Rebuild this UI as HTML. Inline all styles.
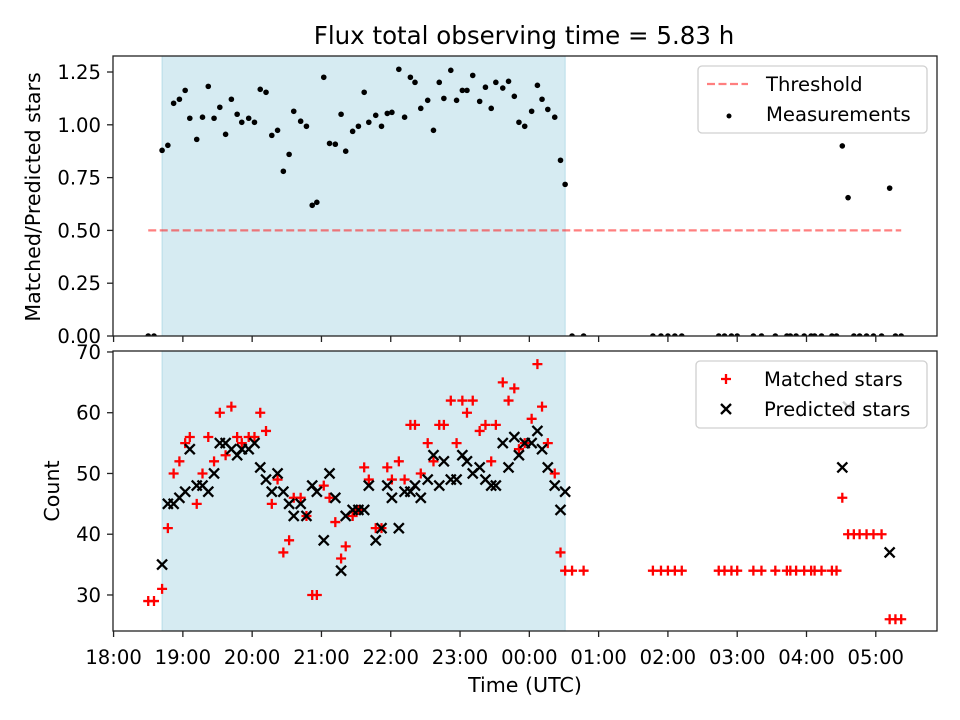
<!DOCTYPE html>
<html><head><meta charset="utf-8"><style>
html,body{margin:0;padding:0;background:#fff;overflow:hidden;width:960px;height:720px;}
svg{display:block;font-family:"DejaVu Sans","Liberation Sans",sans-serif;}
</style></head><body>
<svg id="chart" width="960" height="720" viewBox="0 0 960 720">
<text x="524" y="44" font-size="24.5" text-anchor="middle">Flux total observing time = 5.83 h</text>
<g id="gtop"></g>
<g id="gbot"></g>
<text transform="translate(40,197) rotate(-90)" font-size="20.6" text-anchor="middle">Matched/Predicted stars</text>
<text transform="translate(59,491) rotate(-90)" font-size="20.6" text-anchor="middle">Count</text>
<text x="525" y="692" font-size="20.6" text-anchor="middle">Time (UTC)</text>
</svg>
<script>
// times: minutes since 18:00 UTC
const times=[30,35,42,47,52,57,62,66,72,77,82,87,92,97,102,107,111,117,122,127,132,137,142,147,152,156,162,167,172,176,182,187,192,197,201,207,212,217,221,227,232,237,241,247,252,257,261,266,272,277,282,286,292,297,302,306,311,317,322,327,331,337,342,347,351,356,362,367,371,376,382,387,391,397,407,467,474,480,486,492,524,529,535,540,554,561,573,583,586,591,598,604,607,613,622,626,631,636,641,646,652,658,665,672,677,682];
const ratios=[0,0,0.879,0.903,1.102,1.121,1.163,1.031,0.931,1.036,1.182,1.031,1.083,0.955,1.121,1.050,1.012,1.031,1.012,1.168,1.154,0.950,0.974,0.780,0.860,1.064,1.017,0.993,0.619,0.633,1.225,0.912,0.908,1.050,0.875,0.969,0.993,1.154,1.012,1.045,0.993,1.054,1.059,1.263,1.036,1.225,1.201,1.078,1.116,0.974,1.201,1.125,1.258,1.116,1.163,1.163,1.234,1.111,1.178,1.078,1.201,1.174,1.206,1.135,1.012,0.993,1.064,1.187,1.121,1.073,1.036,0.832,0.718,0,0,0,0,0,0,0,0,0,0,0,0,0,0,0,0,0,0,0,0,0,0,0,0.90,0.655,0,0,0,0,0,0.70,0,0];
const matched=[29,29,31,41,50,52,55,56,45,50,56,52,60,53,61,56,55,56,56,60,57,45,49,37,39,46,46,43,30,30,48,46,42,36,38,43,44,51,49,41,41,51,49,52,49,58,58,50,55,52,58,58,62,55,62,60,62,57,58,52,58,65,62,64,54,55,59,68,61,55,50,37,34,34,34,34,34,34,34,34,34,34,34,34,34,34,34,34,34,34,34,34,34,34,34,34,46,40,40,40,40,40,40,26,26,26];
const predicted=[0,0,35,45,45,46,47,54,48,48,47,50,55,55,54,53,54,54,55,51,49,47,50,47,45,43,45,43,48,47,39,50,46,34,43,44,44,44,48,39,41,48,46,41,47,47,48,46,49,53,48,52,49,49,53,52,50,51,49,48,48,55,51,56,53,55,55,57,54,51,48,44,47,0,0,0,0,0,0,0,0,0,0,0,0,0,0,0,0,0,0,0,0,0,0,0,51,61,0,0,0,0,0,37,0,0];
const yTicksTop=[0,0.25,0.5,0.75,1.0,1.25];
const yTickLabelsTop=["0.00","0.25","0.50","0.75","1.00","1.25"];
const yTicksBot=[30,40,50,60,70];
const xTicks=[0,60,120,180,240,300,360,420,480,540,600,660];
const xTickLabels=["18:00","19:00","20:00","21:00","22:00","23:00","00:00","01:00","02:00","03:00","04:00","05:00"];
const spanStart=42, spanEnd=391, threshold=0.5;

const NS="http://www.w3.org/2000/svg";
const L=113,R=937;
const x=t=>L+(t-(-0.5))/(713.5)*(R-L);
const TT=56,TB=336,BT=351,BB=631;
const yT=v=>TB-v/1.3258*(TB-TT);
const yB=v=>BB-(v-24.07)/(70.16-24.07)*(BB-BT);
const FS=19.6, LFS=20.6;
function mk(p,tag,a){const e=document.createElementNS(NS,tag);for(const k in a)e.setAttribute(k,a[k]);p.appendChild(e);return e;}
const gTop=document.getElementById('gtop'),gBot=document.getElementById('gbot');
const svgRoot=document.getElementById('chart');
function panel(g,T,B,name){
  const clip=mk(svgRoot,'clipPath',{id:'c'+name});
  mk(clip,'rect',{x:L,y:T,width:R-L,height:B-T});
  const s=mk(g,'rect',{x:x(spanStart),y:T,width:x(spanEnd)-x(spanStart),height:B-T,fill:'rgba(173,216,230,0.5)',stroke:'rgba(173,216,230,0.8)'});
  
  
  return mk(g,'g',{'clip-path':'url(#c'+name+')'});
}
const dT=panel(gTop,TT,TB,'top');
const dB=panel(gBot,BT,BB,'bot');
const th=mk(dT,'line',{x1:x(times[0]),x2:x(times[times.length-1]),y1:yT(threshold),y2:yT(threshold),stroke:'rgba(255,0,0,0.5)','stroke-width':2.2,'stroke-dasharray':'8,3.5'});


times.forEach((t,i)=>{
  if(ratios[i]===undefined)return;
  const c=mk(dT,'circle',{cx:x(t),cy:yT(ratios[i]),r:2.8,fill:'#000'});
  
  
});
times.forEach((t,i)=>{
  if(matched[i]===undefined)return;
  const cx=x(t),cy=yB(matched[i]);
  const p=mk(dB,'path',{d:`M${cx-5},${cy}H${cx+5}M${cx},${cy-5}V${cy+5}`,stroke:'#f00','stroke-width':2.3});
  
  
});
times.forEach((t,i)=>{
  if(predicted[i]===undefined)return;
  const cx=x(t),cy=yB(predicted[i]);
  const p=mk(dB,'path',{d:`M${cx-5},${cy-5}L${cx+5},${cy+5}M${cx-5},${cy+5}L${cx+5},${cy-5}`,stroke:'#000','stroke-width':2.3});
  
  
});
function frame(g,T,B){const f=mk(g,'rect',{x:L,y:T,width:R-L,height:B-T,fill:'none',stroke:'#222','stroke-width':1.3});
  }
frame(gTop,TT,TB);frame(gBot,BT,BB);
yTicksTop.forEach((v,i)=>{const y=yT(v);mk(gTop,'line',{x1:L-6,x2:L,y1:y,y2:y,stroke:'#222','stroke-width':1.3});
  const t=mk(gTop,'text',{x:L-12,y:y+7,'font-size':FS,'text-anchor':'end'});t.textContent=yTickLabelsTop[i];
  });
yTicksBot.forEach(v=>{const y=yB(v);mk(gBot,'line',{x1:L-6,x2:L,y1:y,y2:y,stroke:'#222','stroke-width':1.3});
  const t=mk(gBot,'text',{x:L-12,y:y+7,'font-size':FS,'text-anchor':'end'});t.textContent=String(v);
  });
xTicks.forEach((v,i)=>{const xx=x(v);
  mk(gTop,'line',{x1:xx,x2:xx,y1:TB,y2:TB+6,stroke:'#222','stroke-width':1.3});
  mk(gBot,'line',{x1:xx,x2:xx,y1:BB,y2:BB+6,stroke:'#222','stroke-width':1.3});
  const t=mk(gBot,'text',{x:xx,y:BB+33,'font-size':FS,'text-anchor':'middle'});t.textContent=xTickLabels[i];
  });
function legendBox(g,x0,y0,w,h,name){const r=mk(g,'rect',{x:x0,y:y0,width:w,height:h,rx:4,fill:'rgba(255,255,255,0.8)',stroke:'#d0d0d0','stroke-width':1.3});
  }
legendBox(gTop,698,66,229,67,'top-legend');
mk(gTop,'line',{x1:707,x2:748,y1:84,y2:84,stroke:'rgba(255,0,0,0.5)','stroke-width':2.2,'stroke-dasharray':'8,3.5'});
let t1=mk(gTop,'text',{x:766,y:91,'font-size':FS});t1.textContent='Threshold';

mk(gTop,'circle',{cx:729,cy:116,r:2.5,fill:'#000'});
let t2=mk(gTop,'text',{x:766,y:121,'font-size':FS});t2.textContent='Measurements';

legendBox(gBot,696,361,231,67,'bottom-legend');
mk(gBot,'path',{d:'M721,379H731M726,374V384',stroke:'#f00','stroke-width':2.3});
let t3=mk(gBot,'text',{x:764,y:386,'font-size':FS});t3.textContent='Matched stars';

mk(gBot,'path',{d:'M721,404L731,414M721,414L731,404',stroke:'#000','stroke-width':2.3});
let t4=mk(gBot,'text',{x:764,y:416,'font-size':FS});t4.textContent='Predicted stars';

</script>
</body></html>
